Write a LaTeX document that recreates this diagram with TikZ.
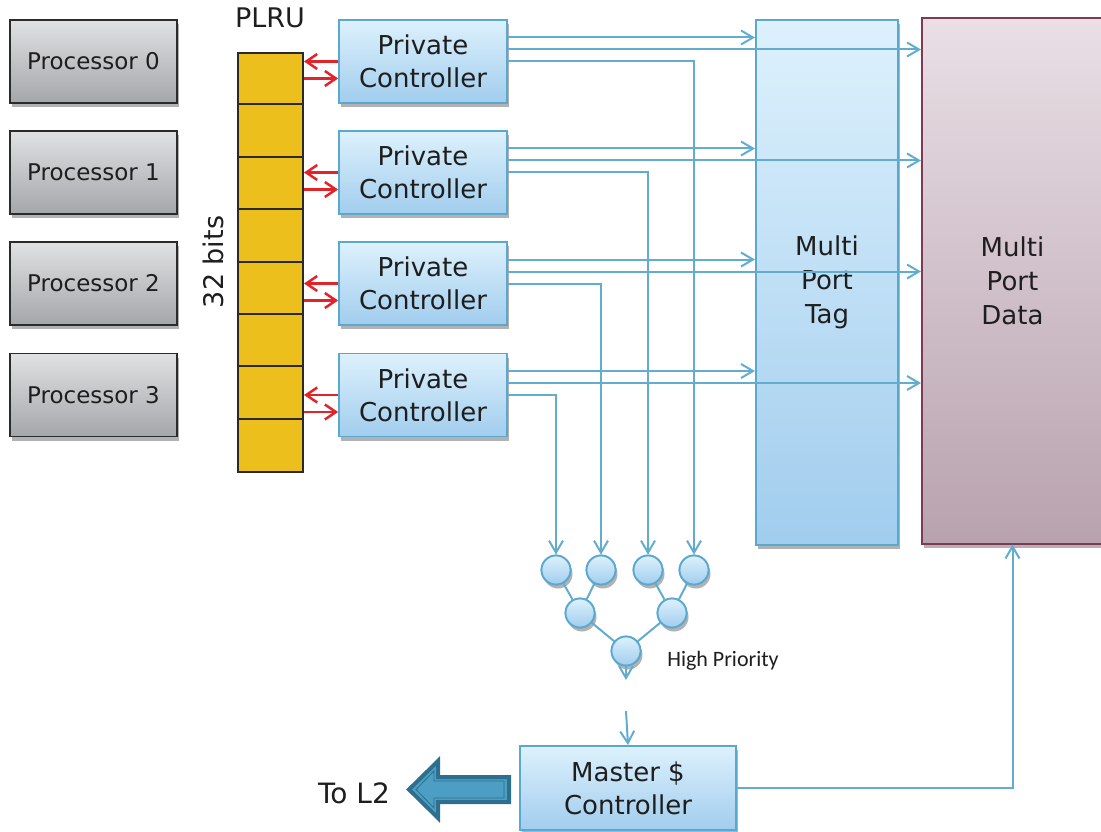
\documentclass[tikz,border=0pt]{standalone}
\usepackage{fontspec}
\setmainfont{DejaVu Sans}
\newfontfamily\calfont{Carlito}
\usetikzlibrary{arrows.meta,shadows,calc}

\definecolor{proctop}{HTML}{E0E1E3}
\definecolor{procbot}{HTML}{A5A6A9}
\definecolor{procedge}{HTML}{2B2B2B}
\definecolor{bluetop}{HTML}{DDF1FC}
\definecolor{bluebot}{HTML}{A1CDEE}
\definecolor{blueedge}{HTML}{5AA8CD}
\definecolor{wirecol}{HTML}{62ACD0}
\definecolor{datatop}{HTML}{E9DFE5}
\definecolor{databot}{HTML}{B8A2AE}
\definecolor{dataedge}{HTML}{7E3A55}
\definecolor{plrugold}{HTML}{ECBF1C}
\definecolor{plruedge}{HTML}{2A2A2A}
\definecolor{redcol}{HTML}{E3232A}
\definecolor{arrowdark}{HTML}{2D6F8E}
\definecolor{arrowfill}{HTML}{4C9EC4}
\definecolor{textcol}{HTML}{1E1E1E}

\begin{document}
\begin{tikzpicture}[x=1pt,y=-1pt,
  softshadow/.style={drop shadow={shadow xshift=2pt,shadow yshift=-4pt,opacity=0.3,fill=black}},
  procbox/.style={rectangle,draw=procedge,line width=1.5pt,top color=proctop,bottom color=procbot,
    minimum width=167pt,minimum height=83pt,inner sep=0pt,text=textcol,
    font=\fontsize{23}{27}\selectfont,softshadow},
  ctlbox/.style={rectangle,draw=blueedge,line width=1.8pt,top color=bluetop,bottom color=bluebot,
    inner sep=0pt,align=center,text=textcol,font=\fontsize{26}{33}\selectfont,softshadow},
  pcbox/.style={ctlbox,minimum width=168pt,minimum height=83pt},
  tagbox/.style={ctlbox,line width=2pt,minimum width=142pt,minimum height=525pt,
    font=\fontsize{26}{34}\selectfont},
  databox/.style={rectangle,draw=dataedge,line width=2pt,top color=datatop,bottom color=databot,
    minimum width=181pt,minimum height=525pt,inner sep=0pt,align=center,text=textcol,
    font=\fontsize{26}{34}\selectfont,softshadow},
  arbiter/.style={circle,draw=blueedge,line width=1.8pt,top color=bluetop,bottom color=bluebot,
    minimum size=29pt,inner sep=0pt},
  plrucol/.style={rectangle,draw=plruedge,line width=2pt,fill=plrugold,
    minimum width=65pt,minimum height=419pt,inner sep=0pt},
  wire/.style={draw=wirecol,line width=2pt},
  wirearrow/.style={wire,-{Straight Barb[length=12pt,width=14pt]}},
  redarrow/.style={draw=redcol,line width=2.5pt,-{Straight Barb[length=11pt,width=15pt]}},
  label/.style={text=textcol,inner sep=0pt,font=\fontsize{27}{32}\selectfont}
]
\useasboundingbox (0,0) rectangle (1101,832);
\clip (0,0) rectangle (1101,832);

% processors
\node[procbox] (p0) at (93.5,61.5)  {Processor 0};
\node[procbox] (p1) at (93.5,172.5) {Processor 1};
\node[procbox] (p2) at (93.5,283.5) {Processor 2};
\node[procbox] (p3) at (93.5,395)   {Processor 3};

% PLRU bit column
\node[plrucol] (plru) at (270.5,262.5) {};
\foreach \i in {1,...,7}
  \draw[plruedge,line width=2pt] ($(plru.north west)+(0,\i*52.375)$) -- ++(65,0);
\node[label] (plrulbl) at (270,18) {PLRU};
\node[label,rotate=90] (bitslbl) at (213,262) {32 bits};

% private controllers
\node[pcbox] (pc0) at (423,61.5)  {Private\\Controller};
\node[pcbox] (pc1) at (423,172.5) {Private\\Controller};
\node[pcbox] (pc2) at (423,283.5) {Private\\Controller};
\node[pcbox] (pc3) at (423,395)   {Private\\Controller};

% tag and data arrays
\node[tagbox] (tag) at (827,282.5) {Multi\\Port\\Tag};
\node[databox] (data) at (1012.5,281) {Multi\\Port\\Data};

% arbitration tree
\node[arbiter,softshadow] (c1) at (556,570) {};
\node[arbiter,softshadow] (c2) at (601,570) {};
\node[arbiter,softshadow] (c3) at (648,570) {};
\node[arbiter,softshadow] (c4) at (694,570) {};
\node[arbiter,softshadow] (m1) at (580,613) {};
\node[arbiter,softshadow] (m2) at (672,613) {};
\node[arbiter,softshadow] (root) at (626,651) {};
\node[text=textcol,inner sep=0pt,font=\calfont\fontsize{22}{26}\selectfont] (hp) at (723,661) {High Priority};

% master controller
\node[ctlbox,minimum width=216pt,minimum height=84pt] (master) at (628,788) {Master \$\\Controller};

% PLRU read/update arrows
\foreach \k in {0,...,3}{
  \draw[redarrow] (pc\k.west) -- (pc\k.west -| plru.east);
  \draw[redarrow] ([yshift=-17pt]pc\k.west -| plru.east) -- ([yshift=-17pt]pc\k.west);
}

% controller buses to tag and data arrays
\foreach \k in {0,...,3}{
  \draw[wirearrow] ([yshift=24pt]pc\k.east) -- ([yshift=24pt]pc\k.east -| tag.west);
  \draw[wirearrow] ([yshift=12pt]pc\k.east) -- ([yshift=12pt]pc\k.east -| data.west);
}

% requests into the arbiter
\draw[wirearrow] (pc0.east) -| (c4.north);
\draw[wirearrow] (pc1.east) -| (c3.north);
\draw[wirearrow] (pc2.east) -| (c2.north);
\draw[wirearrow] (pc3.east) -| (c1.north);

\draw[wire] (c1) -- (m1);
\draw[wire] (c2) -- (m1);
\draw[wire] (c3) -- (m2);
\draw[wire] (c4) -- (m2);
\draw[wire] (m1) -- (root);
\draw[wire] (m2) -- (root);
% circles repainted over the tree lines
\foreach \n in {c1,c2,c3,c4,m1,m2,root}
  \node[arbiter] at (\n) {};

\coordinate (gapA) at (626,680);
\coordinate (gapB) at (626,711);
\draw[wirearrow] (root.south) -- (gapA);
\draw[wirearrow] (gapB) -- (master.north);

% master controller back to data array
\draw[wirearrow] (master.east) -| (data.south);

% block arrow to L2
\draw[draw=arrowdark,fill=arrowfill,line width=4pt,line join=miter]
  (509,777) -- (438,777) -- (438,761) -- (409,789.5) -- (438,818) -- (438,802) -- (509,802) -- cycle;
\draw[draw=arrowdark,line width=0.8pt,line join=miter]
  (504,781) -- (434,781) -- (434,771) -- (416,789.5) -- (434,808) -- (434,798) -- (504,798) -- cycle;
\node[label,font=\fontsize{28}{32}\selectfont] (l2) at (354,793) {To L2};
\end{tikzpicture}
\end{document}
